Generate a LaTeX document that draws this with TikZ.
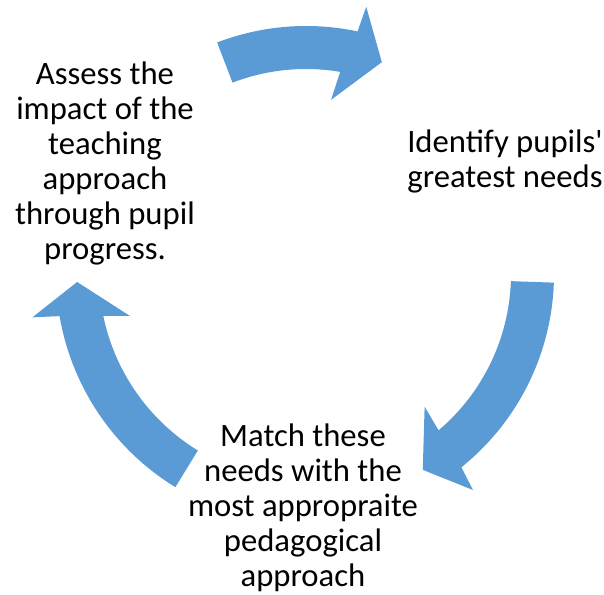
\documentclass[tikz,border=0pt]{standalone}
\usepackage{fontspec}
\setmainfont{Carlito}[Ligatures=TeXOff]
\definecolor{cycleblue}{RGB}{91,155,213}

\tikzset{
	cyclepicture/.style = {
		x = 0.75pt,
		y = 0.75pt,
		stepnode/.style = {
			align = center,
			inner sep = 0pt,
			font = \fontsize{24.5}{26.25}\selectfont
		}
	},
	cyclearrow/.style = {
		fill = cycleblue,
		draw = none
	}
}

\begin{document}
\begin{tikzpicture}[cyclepicture]
	\useasboundingbox (0,0) rectangle (604,594);

	\coordinate (hub) at (306,320);

	\node[stepnode] (identify) at (505,433) {Identify pupils'\\greatest needs};
	\node[stepnode] (match) at (303,86) {Match these\\needs with the\\most appropraite\\pedagogical\\approach};
	\node[stepnode] (assess) at (105,431) {Assess the\\impact of the\\teaching\\approach\\through pupil\\progress.};

	\begin{scope}[shift = {(hub)}, every path/.style = cyclearrow]
		% assess -> identify
		\path (111:248) arc[start angle = 111, end angle = 78, radius = 248]
			-- (77.3:274) -- (70.3:225) -- (81.8:176) -- (80.4:205)
			arc[start angle = 80.4, end angle = 111, radius = 205] -- cycle;
		% identify -> match
		\path (-2:248) arc[start angle = -2, end angle = -51.2, radius = 248]
			-- (-52.3:273) -- (-59.2:228) -- (-48.2:178) -- (-49.7:205)
			arc[start angle = -49.7, end angle = -2, radius = 205] -- cycle;
		% match -> assess
		\path (238.5:250) arc[start angle = 238.5, end angle = 189.7, radius = 250]
			-- (189:277) -- (182:229) -- (193.4:181) -- (191.7:207)
			arc[start angle = 191.7, end angle = 238.5, radius = 207] -- cycle;
	\end{scope}
\end{tikzpicture}
\end{document}
